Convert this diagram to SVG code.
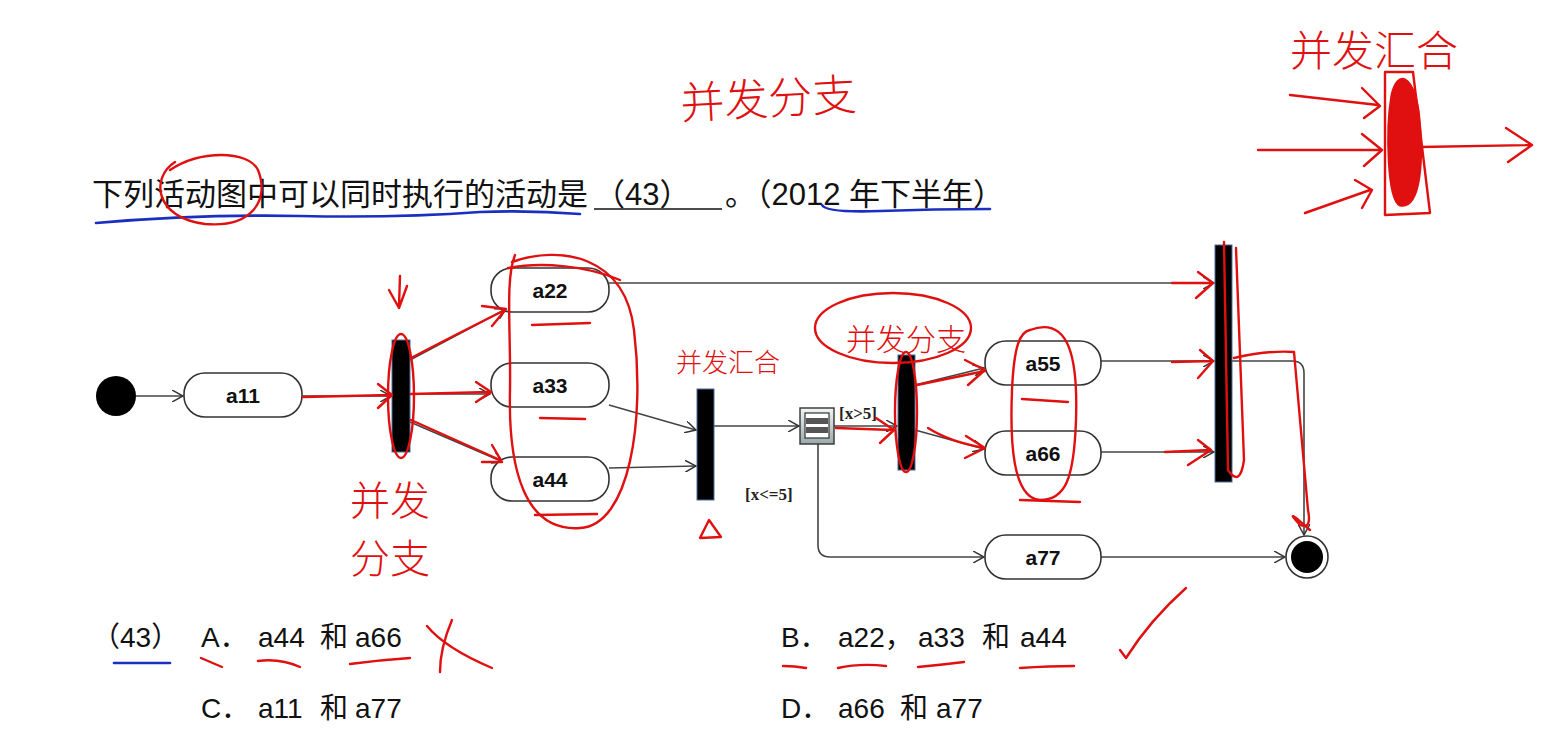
<svg xmlns="http://www.w3.org/2000/svg" width="1556" height="746" viewBox="0 0 1556 746">
<defs>
<marker id="arr" viewBox="0 0 12 12" refX="11" refY="6" markerWidth="12" markerHeight="12" markerUnits="userSpaceOnUse" orient="auto">
<path d="M0,0 L11,6 L0,12" fill="none" stroke="#333" stroke-width="1.5"/>
</marker>
<linearGradient id="dec" x1="0" y1="0" x2="0" y2="1">
<stop offset="0" stop-color="#f4f4f4"/><stop offset="1" stop-color="#9aa"/>
</linearGradient>
</defs>
<style>
.q{font-family:"Liberation Sans","Noto Sans CJK SC",sans-serif;fill:#111}
.node rect{fill:#fff;stroke:#333;stroke-width:1.6}
.lbl{font-family:"Liberation Sans","Noto Sans CJK SC",sans-serif;font-weight:bold;font-size:21px;fill:#111;text-anchor:middle}
.bar{fill:#000;stroke:#4a6fa0;stroke-width:1}
.con path{fill:none;stroke:#444;stroke-width:1.6;marker-end:url(#arr)}
.cond{font-family:"Liberation Serif",serif;font-weight:bold;font-size:17px;fill:#222}
.r{fill:none;stroke:#e01010;stroke-width:2.4;stroke-linecap:round;stroke-linejoin:round}
.b{fill:none;stroke:#1a2fc0;stroke-width:2.6;stroke-linecap:round}
.hw{font-family:"Noto Sans CJK SC",sans-serif;font-weight:300;fill:#e01010}
</style>
<rect width="1556" height="746" fill="#fff"/>

<!-- question -->
<g id="question">
<text class="q" x="92" y="205" font-size="31">下列活动图中可以同时执行的活动是</text>
<text class="q" x="594" y="205" font-size="31">（43）</text>
<line x1="594" y1="209" x2="722" y2="209" stroke="#111" stroke-width="1.6"/>
<text class="q" x="725" y="205" font-size="31">。（2012 年下半年）</text>
</g>

<!-- connectors -->
<g id="connectors" class="con">
<path d="M136,396 L183,396"/>
<path d="M302,396 L391,396"/>
<path d="M410,360 L506,309"/>
<path d="M410,394 L490,394"/>
<path d="M410,422 L503,462"/>
<path d="M609,283 L1214,283"/>
<path d="M609,405 L696,430"/>
<path d="M609,468 L696,466"/>
<path d="M714,426 L799,426"/>
<path d="M834,426 L897,426"/>
<path d="M915,385 L984,368"/>
<path d="M915,430 L984,449"/>
<path d="M1101,361 L1214,361"/>
<path d="M1101,452 L1214,452"/>
<path d="M1232,361 L1292,361 Q1304,361 1304,373 L1304,535"/>
<path d="M818,444 L818,545 Q818,557 830,557 L984,557"/>
<path d="M1101,557 L1285,557"/>
</g>

<!-- nodes -->
<g id="start"><circle cx="116" cy="396" r="20" fill="#000"/></g>
<g id="a11" class="node"><rect x="184" y="373" width="118" height="44" rx="21"/><text class="lbl" x="243" y="403">a11</text></g>
<g id="fork1"><rect class="bar" x="392" y="340" width="18" height="112"/></g>
<g id="a22" class="node"><rect x="491" y="268" width="118" height="44" rx="21"/><text class="lbl" x="550" y="298">a22</text></g>
<g id="a33" class="node"><rect x="491" y="363" width="118" height="44" rx="21"/><text class="lbl" x="550" y="393">a33</text></g>
<g id="a44" class="node"><rect x="491" y="457" width="118" height="44" rx="21"/><text class="lbl" x="550" y="487">a44</text></g>
<g id="join1"><rect class="bar" x="697" y="389" width="17" height="111"/></g>
<g id="decision">
<rect x="800" y="408" width="34" height="36" fill="url(#dec)" stroke="#333" stroke-width="1.4"/>
<rect x="805" y="413" width="24" height="25" fill="#fff" stroke="#333" stroke-width="1.2"/>
<rect x="806" y="418" width="22" height="6" fill="#555"/>
<rect x="806" y="427" width="22" height="6" fill="#555"/>
</g>
<text class="cond" x="839" y="419">[x&gt;5]</text>
<text class="cond" x="745" y="500">[x&lt;=5]</text>
<g id="fork2"><rect class="bar" x="898" y="355" width="17" height="115"/></g>
<g id="a55" class="node"><rect x="985" y="341" width="116" height="44" rx="21"/><text class="lbl" x="1043" y="371">a55</text></g>
<g id="a66" class="node"><rect x="985" y="431" width="116" height="44" rx="21"/><text class="lbl" x="1043" y="461">a66</text></g>
<g id="join2"><rect class="bar" x="1215" y="245" width="17" height="237"/></g>
<g id="a77" class="node"><rect x="985" y="535" width="116" height="44" rx="21"/><text class="lbl" x="1043" y="565">a77</text></g>
<g id="end"><circle cx="1307" cy="557" r="21" fill="#fff" stroke="#333" stroke-width="1.6"/><circle cx="1307" cy="557" r="16" fill="#000"/></g>

<!-- options -->
<g id="options" class="q" font-size="28">
<text x="92" y="647">（43）</text>
<text x="201" y="647">A．</text><text x="258" y="647">a44</text><text x="320" y="647">和</text><text x="355" y="647">a66</text>
<text x="781" y="647">B．</text><text x="838" y="647">a22，</text><text x="918" y="647">a33</text><text x="982" y="647">和</text><text x="1020" y="647">a44</text>
<text x="201" y="718">C．</text><text x="258" y="718">a11</text><text x="320" y="718">和</text><text x="355" y="718">a77</text>
<text x="781" y="718">D．</text><text x="838" y="718">a66</text><text x="900" y="718">和</text><text x="936" y="718">a77</text>
</g>

<!-- annotations -->
<g id="annotations">
<path class="b" d="M96,223 Q200,214 300,216 T480,212 Q530,210 580,214"/>
<path class="b" d="M822,205 Q826,213 880,211 T990,209"/>
<path class="b" d="M114,663 L170,663"/>
<path class="r" d="M175,162 C150,178 155,218 205,224 C252,228 270,200 258,170 C248,150 200,150 170,170"/>

<text class="hw" x="680" y="115" font-size="44" transform="rotate(-3 760 95)">并发分支</text>
<text class="hw" x="1290" y="66" font-size="42">并发汇合</text>
<path class="r" d="M1290,95 L1378,105 M1362,88 L1380,106 L1364,118"/>
<path class="r" d="M1258,150 L1380,150 M1362,134 L1382,150 L1364,166"/>
<path class="r" d="M1305,213 L1370,190 M1355,180 L1372,190 L1362,208"/>
<path class="r" d="M1385,72 L1413,72 L1430,213 L1385,215 Z"/>
<path d="M1392,95 C1398,70 1412,75 1418,110 C1424,160 1420,210 1400,205 C1388,200 1386,130 1392,95 Z" fill="#e01010" stroke="#e01010" stroke-width="3"/>
<path class="r" d="M1420,147 L1532,145 M1506,128 L1532,145 L1508,162"/>

<path class="r" d="M400,276 L399,306 M389,290 L399,308 L407,286"/>
<ellipse class="r" cx="401" cy="396" rx="13" ry="62"/>
<text class="hw" x="350" y="515" font-size="40">并发</text>
<text class="hw" x="350" y="573" font-size="40">分支</text>
<path class="r" d="M303,397 L391,395 M378,384 L392,395 L378,408"/>
<path class="r" d="M411,358 Q455,335 505,310 M482,306 L506,309 L492,326"/>
<path class="r" d="M411,394 L490,392 M476,382 L491,392 L476,402"/>
<path class="r" d="M411,420 L500,460 M482,462 L502,462 L492,445"/>
<path class="r" d="M512,262 C560,245 625,255 634,330 C645,420 630,525 580,528 C525,532 508,470 510,390 C511,330 505,280 515,255"/>
<path class="r" d="M508,268 C540,262 585,265 620,280"/>
<path class="r" d="M532,325 L590,323 M540,418 L585,419 M535,515 L597,514"/>

<text class="hw" x="676" y="372" font-size="26">并发汇合</text>
<path class="r" d="M700,538 L709,520 L721,537 Z"/>

<ellipse class="r" cx="893" cy="328" rx="78" ry="35"/>
<text class="hw" x="846" y="350" font-size="30">并发分支</text>
<ellipse class="r" cx="906" cy="412" rx="11" ry="60"/>
<path class="r" d="M836,428 L893,430 M876,418 L894,430 L880,443"/>
<path class="r" d="M917,385 L985,371 M965,360 L985,370 L968,385"/>
<path class="r" d="M928,428 Q950,442 985,448 M966,436 L985,448 L965,458"/>
<path class="r" d="M1030,330 C1070,315 1078,360 1076,420 C1074,480 1065,500 1040,500 C1012,498 1010,440 1012,390 C1014,345 1020,332 1030,330"/>
<path class="r" d="M1022,399 L1068,402 M1020,500 L1080,502"/>
<path class="r" d="M1172,283 L1212,283 M1198,272 L1213,283 L1196,298"/>
<path class="r" d="M1172,362 L1212,361 M1200,350 L1213,361 L1198,378"/>
<path class="r" d="M1165,452 L1210,450 M1198,440 L1211,450 L1188,465"/>
<path class="r" d="M1224,242 L1228,470 Q1240,488 1244,460 L1236,248"/>
<path class="r" d="M1234,358 Q1270,350 1294,352 L1308,510 Q1312,530 1300,525 Q1288,512 1296,518 L1310,530"/>

<path class="r" d="M201,658 L222,667 M258,661 Q280,658 300,667 M350,664 Q380,660 410,658"/>
<path class="r" d="M427,626 Q445,648 492,668 M452,620 Q440,648 440,672"/>
<path class="r" d="M783,666 Q795,666 806,668 M838,668 Q860,663 886,666 M918,667 Q940,665 964,662 M1020,668 Q1050,666 1074,666"/>
<path class="r" d="M1120,650 L1126,658 Q1150,620 1186,588"/>
</g>
</svg>
